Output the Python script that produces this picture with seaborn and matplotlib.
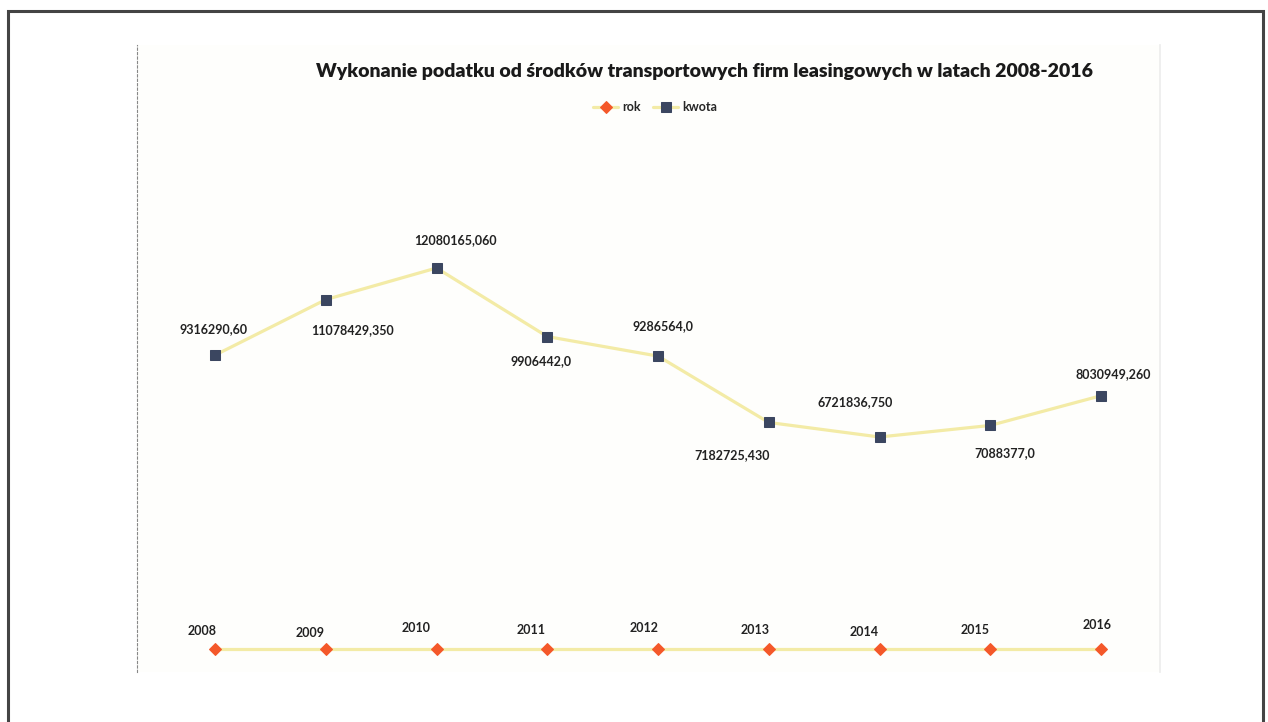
import numpy as np
import pandas as pd
import matplotlib.pyplot as plt
import seaborn as sns
from matplotlib.patches import Rectangle

lata = [2008, 2009, 2010, 2011, 2012, 2013, 2014, 2015, 2016]
kwota = [9316290.60, 11078429.35, 12080165.06, 9906442.0, 9286564.0,
         7182725.43, 6721836.75, 7088377.0, 8030949.26]
kwota_etykiety = ["9316290,60", "11078429,350", "12080165,060", "9906442,0",
                  "9286564,0", "7182725,430", "6721836,750", "7088377,0",
                  "8030949,260"]

# label placement (pixel offsets from the marker, as in the scanned chart)
kwota_dx = [-1.5, 27, 19, -6, 5, -37, -24, 15, 12]
kwota_dy = [-26, 30, -28, 25, -30, 33, -35, 28, -22]
rok_dx = [-13, -16, -20, -16, -14, -14, -15, -15, -4]
rok_dy = [-18, -16, -21, -19, -21, -19, -17, -19, -24]

df = pd.DataFrame({'i': range(len(lata)), 'rok': lata, 'kwota': kwota})

sns.set_style('white')
plt.rcParams['font.family'] = ['Lato', 'DejaVu Sans']

W, H = 1268, 722
fig = plt.figure(figsize=(W / 100, H / 100), dpi=100)
PT = 0.72  # points per pixel at dpi 100

# outer page frame
fig.patches.append(Rectangle((8 / W, -0.1), (1263 - 8) / W, 1.1 - 11 / H,
                             transform=fig.transFigure, fill=False,
                             edgecolor='#444444', linewidth=2.2))

# plot area box (inner chart)
left, right, top, bottom = 137, 1160, 45, 672
ax = fig.add_axes([left / W, 1 - bottom / H, (right - left) / W, (bottom - top) / H])
ax.set_facecolor('#fefefc')

line_col = '#f3eba6'
sns.lineplot(data=df, x='i', y='kwota', ax=ax, color=line_col, linewidth=2.3,
             marker='s', markersize=7, markerfacecolor='#3b4660',
             markeredgecolor='#3b4660', label='kwota', legend=False)
sns.lineplot(data=df, x='i', y='rok', ax=ax, color=line_col, linewidth=2.3,
             marker='D', markersize=6.5, markerfacecolor='#f4582a',
             markeredgecolor='#f4582a', label='rok', legend=False)

# scale: 0 at y=649 px, 2008 at x=215, 2016 at x=1101
px_per_unit = (649 - 268) / 12080165.06
ax.set_ylim(-(bottom - 649) / px_per_unit, (649 - top) / px_per_unit)
step = (1101 - 215) / 8
ax.set_xlim(-(215 - left) / step, 8 + (right - 1101) / step)

for i, (v, lab) in enumerate(zip(kwota, kwota_etykiety)):
    ax.annotate(lab, (i, v), xytext=(kwota_dx[i] * PT, -kwota_dy[i] * PT),
                textcoords='offset points', ha='center', va='center',
                fontsize=9, fontweight='bold', color='#222222')

for i, r in enumerate(lata):
    ax.annotate(str(r), (i, r), xytext=(rok_dx[i] * PT, -rok_dy[i] * PT),
                textcoords='offset points', ha='center', va='center',
                fontsize=9, fontweight='bold', color='#222222')

ax.set_xticks([])
ax.set_yticks([])
ax.set_xlabel('')
ax.set_ylabel('')
for s in ['top', 'bottom']:
    ax.spines[s].set_visible(False)
ax.spines['left'].set_color('#888888')
ax.spines['left'].set_linestyle((0, (2, 2)))
ax.spines['left'].set_linewidth(0.8)
ax.spines['right'].set_color('#ececec')
ax.spines['right'].set_linewidth(1.2)

fig.text(704 / W, 1 - 72 / H,
         'Wykonanie podatku od środków transportowych firm leasingowych w latach 2008-2016',
         ha='center', va='center', fontsize=14, fontweight='heavy', color='#1a1a1a')

handles, labels = ax.get_legend_handles_labels()
order = [labels.index('rok'), labels.index('kwota')]
fig.legend([handles[k] for k in order], ['rok', 'kwota'], loc='center',
           bbox_to_anchor=(655 / W, 1 - 107 / H), ncol=2, frameon=False,
           handlelength=2.0, columnspacing=1.0, handletextpad=0.3,
           prop={'weight': 'bold', 'size': 9})

fig.savefig('out.png', dpi=100)
